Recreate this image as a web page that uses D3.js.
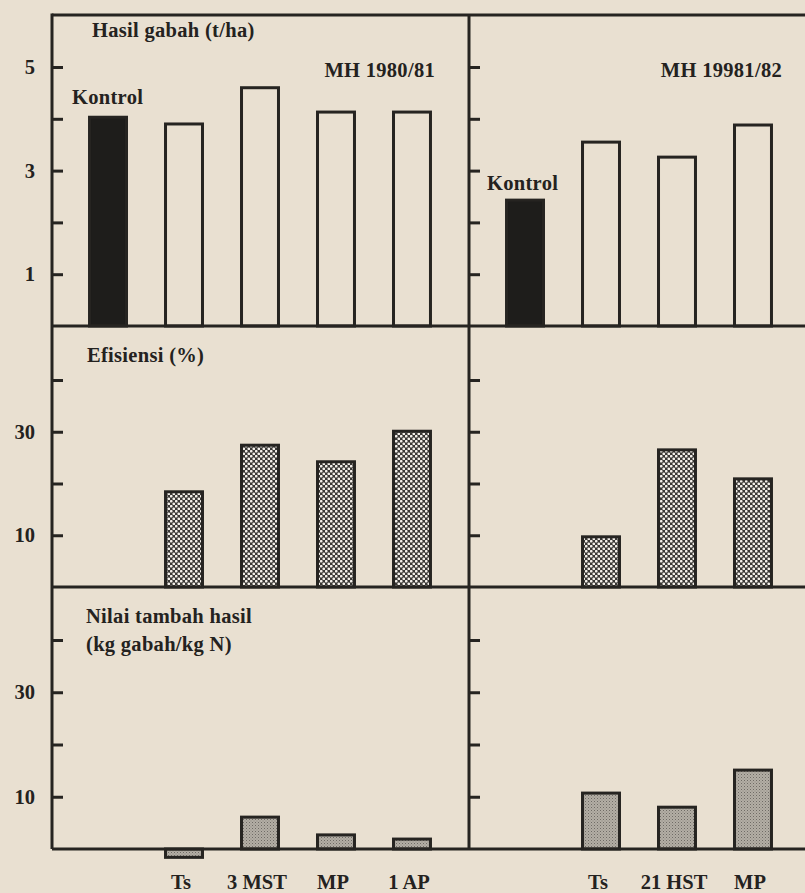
<!DOCTYPE html>
<html>
<head>
<meta charset="utf-8">
<script src="https://cdn.jsdelivr.net/npm/d3@7"></script>
<style>
  html, body { margin: 0; padding: 0; background: #e9e0d1; }
  svg { display: block; }
  text { font-family: "Liberation Serif", "DejaVu Serif", serif; fill: #242220; }
</style>
</head>
<body>
<svg id="chart" width="805" height="893"></svg>
<script>
// ---------------- DATA ----------------
const catsLeft  = ["Kontrol", "Ts", "3 MST", "MP", "1 AP"];
const catsRight = ["Kontrol", "Ts", "21 HST", "MP"];

const yieldLeft  = [4.03, 3.9, 4.6, 4.13, 4.13];   // Hasil gabah (t/ha), MH 1980/81
const yieldRight = [2.43, 3.55, 3.26, 3.88];       // MH 19981/82

const effLeft  = [null, 18.4, 27.4, 24.2, 30.1];   // Efisiensi (%)
const effRight = [null, 9.7, 26.5, 20.9];

const addLeft  = [null, -1.6, 6.1, 2.7, 1.9];      // Nilai tambah hasil (kg gabah/kg N)
const addRight = [null, 10.7, 8.0, 15.1];

const yieldTicks = [1, 2, 3, 4, 5];
const yieldTickLabels = [1, 3, 5];
const pctTicks = [10, 20, 30, 40];
const pctTickLabels = [10, 30];

const xLabelsLeft  = ["Ts", "3 MST", "MP", "1 AP"];
const xLabelsRight = ["Ts", "21 HST", "MP"];

// ---------------- LAYOUT ----------------
const svg = d3.select("#chart");
const ink = "#262421";
const paper = "#e9e0d1";
const axL = 52, axR = 469, topY = 15, rightEdge = 830;
const FS = 20.5;

const defs = svg.append("defs");
// coarse dotted pattern (efficiency)
const p1 = defs.append("pattern").attr("id", "dots").attr("patternUnits", "userSpaceOnUse")
  .attr("width", 5).attr("height", 5);
p1.append("rect").attr("width", 5).attr("height", 5).attr("fill", "#3a3835");
p1.append("circle").attr("cx", 1.25).attr("cy", 1.25).attr("r", 1.35).attr("fill", "#f4f0ea");
p1.append("circle").attr("cx", 3.75).attr("cy", 3.75).attr("r", 1.35).attr("fill", "#f4f0ea");
// fine stipple (added yield)
const p2 = defs.append("pattern").attr("id", "stip").attr("patternUnits", "userSpaceOnUse")
  .attr("width", 3).attr("height", 3);
p2.append("rect").attr("width", 3).attr("height", 3).attr("fill", "#b3aea5");
p2.append("rect").attr("x", 0).attr("y", 0).attr("width", 1).attr("height", 1).attr("fill", "#6f6b65");
p2.append("rect").attr("x", 1.5).attr("y", 1.5).attr("width", 1).attr("height", 1).attr("fill", "#8a857e");

// x scales
const xL = d3.scaleBand().domain(catsLeft).range([axL, axR - 1]).padding(0.474);
const xR = d3.scaleBand().domain(catsRight).range([axR, axR + 340]).padding(0.474);

// y scales
const yTop = d3.scaleLinear().domain([0, 5]).range([326, 67]);
const yMid = d3.scaleLinear().domain([0, 40]).range([587, 380]);
const yBot = d3.scaleLinear().domain([0, 40]).range([849, 640]);

function drawBars(x, y, cats, vals, fillFn) {
  const data = cats.map((c, i) => ({ c, v: vals[i], i })).filter(d => d.v !== null);
  svg.append("g").selectAll("rect").data(data).join("rect")
    .attr("x", d => x(d.c) + 1.5)
    .attr("width", x.bandwidth() - 3)
    .attr("y", d => Math.min(y(d.v), y(0)))
    .attr("height", d => Math.abs(y(d.v) - y(0)))
    .attr("fill", d => fillFn(d))
    .attr("stroke", ink)
    .attr("stroke-width", 3);
}

drawBars(xL, yTop, catsLeft, yieldLeft, d => d.i === 0 ? "#1e1d1b" : paper);
drawBars(xR, yTop, catsRight, yieldRight, d => d.i === 0 ? "#1e1d1b" : paper);
drawBars(xL, yMid, catsLeft, effLeft, () => "url(#dots)");
drawBars(xR, yMid, catsRight, effRight, () => "url(#dots)");
drawBars(xL, yBot, catsLeft, addLeft, () => "url(#stip)");
drawBars(xR, yBot, catsRight, addRight, () => "url(#stip)");

// axes (ticks pointing inward)
function axis(xPos, y, ticks, labels, showLabels) {
  const a = d3.axisLeft(y).tickValues(ticks).tickSizeInner(-11).tickSizeOuter(0).tickPadding(17)
    .tickFormat(v => showLabels && labels.includes(v) ? String(v) : "");
  const g = svg.append("g").attr("transform", `translate(${xPos},0)`).call(a);
  g.select(".domain").remove();
  g.selectAll(".tick line").attr("stroke", ink).attr("stroke-width", 3);
  g.selectAll(".tick text").attr("font-size", FS).attr("font-weight", "bold")
    .attr("font-family", "Liberation Serif, serif").attr("fill", ink);
}
axis(axL, yTop, yieldTicks, yieldTickLabels, true);
axis(axR, yTop, yieldTicks, yieldTickLabels, false);
axis(axL, yMid, pctTicks, pctTickLabels, true);
axis(axR, yMid, pctTicks, pctTickLabels, false);
axis(axL, yBot, pctTicks, pctTickLabels, true);
axis(axR, yBot, pctTicks, pctTickLabels, false);

// frame lines
const frame = svg.append("g").attr("stroke", ink).attr("stroke-width", 3).attr("fill", "none");
frame.append("line").attr("x1", axL).attr("x2", axL).attr("y1", topY - 1.5).attr("y2", yBot(0));
frame.append("line").attr("x1", axR).attr("x2", axR).attr("y1", topY).attr("y2", yBot(0));
frame.append("line").attr("x1", axL).attr("x2", rightEdge).attr("y1", topY).attr("y2", topY);
frame.append("line").attr("x1", axL).attr("x2", rightEdge).attr("y1", yTop(0)).attr("y2", yTop(0));
frame.append("line").attr("x1", axL).attr("x2", rightEdge).attr("y1", yMid(0)).attr("y2", yMid(0));
frame.append("line").attr("x1", axL).attr("x2", rightEdge).attr("y1", yBot(0)).attr("y2", yBot(0));

// texts
function txt(x, y, s, anchor) {
  svg.append("text").attr("x", x).attr("y", y).attr("text-anchor", anchor || "start")
    .attr("font-size", FS).attr("font-weight", "bold").attr("letter-spacing", 0.3).text(s);
}
txt(92, 37, "Hasil gabah (t/ha)");
txt(435, 77, "MH 1980/81", "end");
txt(72, 104, "Kontrol");
txt(782, 77, "MH 19981/82", "end");
txt(487, 190, "Kontrol");
txt(87, 362, "Efisiensi (%)");
txt(86, 623, "Nilai tambah hasil");
txt(86, 651, "(kg gabah/kg N)");

// category labels
svg.append("g").selectAll("text").data(xLabelsLeft).join("text")
  .attr("x", d => xL(d) + xL.bandwidth() / 2 - 3).attr("y", 889)
  .attr("text-anchor", "middle").attr("font-size", FS).attr("font-weight", "bold").text(d => d);
svg.append("g").selectAll("text").data(xLabelsRight).join("text")
  .attr("x", d => xR(d) + xR.bandwidth() / 2 - 3).attr("y", 889)
  .attr("text-anchor", "middle").attr("font-size", FS).attr("font-weight", "bold").text(d => d);
</script>
</body>
</html>
